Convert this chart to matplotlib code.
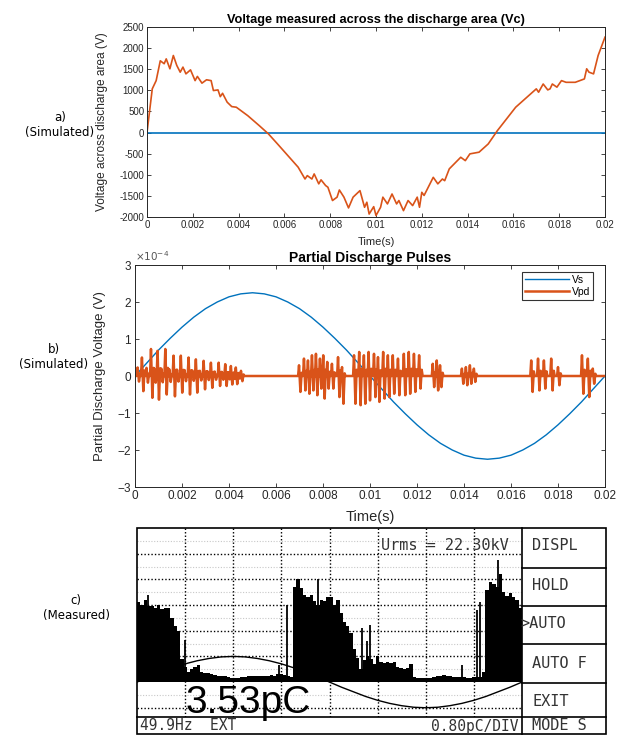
import matplotlib
matplotlib.use('Agg')
import matplotlib.pyplot as plt
from matplotlib.ticker import FuncFormatter, ScalarFormatter, MultipleLocator
from matplotlib.patches import Rectangle
import numpy as np

plt.rcParams['axes.unicode_minus'] = False

# ---------------- data ----------------
# a) Voltage across the discharge area
vc_t = [0, 0.00023, 0.0004, 0.00058, 0.00075, 0.00084, 0.001, 0.00115, 0.0013, 0.00145,
        0.00157, 0.0017, 0.0019, 0.0021, 0.0022, 0.0024, 0.0026, 0.0028, 0.0029, 0.0031,
        0.0032, 0.0033, 0.0035, 0.0037, 0.0039, 0.0041, 0.0044, 0.0049, 0.0053, 0.0057,
        0.0066, 0.0069, 0.0070, 0.0072, 0.0073, 0.0075, 0.0076, 0.0078, 0.0079, 0.0081,
        0.0083, 0.0084, 0.0086, 0.0088, 0.0090, 0.0093, 0.0095, 0.0096, 0.0097, 0.0099,
        0.0100, 0.0102, 0.0103, 0.0105, 0.0107, 0.0109, 0.0110, 0.0112, 0.0114, 0.0116,
        0.0118, 0.0119, 0.0120, 0.0121, 0.0125, 0.0127, 0.0129, 0.0130, 0.0132, 0.0137,
        0.0139, 0.0141, 0.0145, 0.0149, 0.0153, 0.0161, 0.0170, 0.0171, 0.0173, 0.0175,
        0.0176, 0.0177, 0.0179, 0.0181, 0.0183, 0.0187, 0.0191, 0.0192, 0.0193, 0.0195,
        0.0197, 0.0200]
vc_v = [0, 1035, 1230, 1700, 1630, 1745, 1510, 1825, 1590, 1430,
        1550, 1390, 1485, 1230, 1330, 1170, 1250, 1230, 995, 1010,
        850, 930, 720, 615, 600, 520, 400, 165, -30, -270,
        -820, -1100, -1020, -1100, -980, -1215, -1120, -1255, -1295, -1610,
        -1530, -1360, -1530, -1785, -1530, -1375, -1770, -1650, -1930, -1755,
        -1965, -1770, -1530, -1690, -1455, -1690, -1610, -1850, -1610, -1730,
        -1530, -1770, -1415, -1490, -1060, -1215, -1100, -1140, -860, -585,
        -665, -505, -465, -270, 45, 600, 1035, 955, 1150, 1010,
        1035, 1150, 1075, 1230, 1190, 1190, 1270, 1510, 1430, 1390,
        1825, 2260]
zero_t = [0, 0.02]
zero_v = [0, 0]

# b) Partial discharge pulses (values in units of 1e-4 V)
vs_t = [i * 0.0005 for i in range(41)]
vs_v = [0, 0.35, 0.70, 1.02, 1.32, 1.59, 1.82, 2.00, 2.14, 2.22, 2.25, 2.22, 2.14, 2.00,
        1.82, 1.59, 1.32, 1.02, 0.70, 0.35, 0, -0.35, -0.70, -1.02, -1.32, -1.59, -1.82,
        -2.00, -2.14, -2.22, -2.25, -2.22, -2.14, -2.00, -1.82, -1.59, -1.32, -1.02,
        -0.70, -0.35, 0]
pd_t = [0.00007, 0.000255, 0.00045, 0.00064, 0.00078, 0.00092, 0.00108, 0.00125, 0.00142,
        0.0016, 0.00175, 0.00191, 0.00207, 0.00224, 0.0024, 0.00255, 0.00272, 0.00288,
        0.00304, 0.00319, 0.00335, 0.00352, 0.00366, 0.0038, 0.00393, 0.00404, 0.00415,
        0.00425, 0.00436, 0.00447,
        0.00694, 0.00715, 0.00732, 0.00749, 0.00766, 0.00783, 0.00797, 0.00814, 0.00834,
        0.0086, 0.00877,
        0.00928, 0.0095, 0.0097, 0.0099, 0.01013, 0.0103, 0.01052, 0.01072, 0.01093,
        0.01115, 0.0114, 0.01161, 0.01183, 0.01205,
        0.01263, 0.0128, 0.01294,
        0.01387, 0.01404, 0.01421, 0.01438,
        0.01682, 0.01711, 0.01736, 0.01767, 0.01796,
        0.01898, 0.01923, 0.01944]
pd_up = [0.23, 0.50, 0.22, 0.73, 0.20, 0.68, 0.20, 0.73, 0.18, 0.55, 0.17, 0.55, 0.16,
         0.50, 0.15, 0.45, 0.14, 0.41, 0.13, 0.36, 0.12, 0.36, 0.11, 0.32, 0.10, 0.27,
         0.09, 0.23, 0.08, 0.14,
         0.29, 0.47, 0.42, 0.56, 0.60, 0.47, 0.56, 0.38, 0.33, 0.51, 0.24,
         0.56, 0.65, 0.56, 0.65, 0.60, 0.51, 0.65, 0.56, 0.56, 0.47, 0.60, 0.65, 0.60, 0.56,
         0.33, 0.42, 0.29,
         0.20, 0.24, 0.29, 0.20,
         0.42, 0.47, 0.42, 0.47, 0.24,
         0.56, 0.47, 0.20]
pd_dn = [-0.15, -0.41, -0.18, -0.59, -0.18, -0.64, -0.17, -0.50, -0.16, -0.55, -0.15, -0.45,
         -0.14, -0.50, -0.13, -0.45, -0.12, -0.36, -0.11, -0.32, -0.10, -0.27, -0.10, -0.27,
         -0.09, -0.23, -0.08, -0.22, -0.07, -0.14,
         -0.43, -0.39, -0.48, -0.39, -0.52, -0.34, -0.61, -0.34, -0.34, -0.57, -0.75,
         -0.75, -0.79, -0.75, -0.66, -0.57, -0.70, -0.61, -0.57, -0.48, -0.52, -0.52, -0.48,
         -0.43, -0.34,
         -0.30, -0.39, -0.30,
         -0.21, -0.25, -0.21, -0.16,
         -0.43, -0.39, -0.34, -0.39, -0.25,
         -0.48, -0.57, -0.21]

# c) Measured PD display (heights in screen divisions, 8 x-divisions)
c_bars = [3.1, 3.0, 3.2, 2.95, 2.95, 2.88, 3.0, 2.85, 2.88, 2.9, 2.5, 2.2, 2.0,
          0.9, 0.6, 0.4, 0.5, 0.6, 0.65, 0.4, 0.35, 0.35, 0.3, 0.28, 0.25, 0.22, 0.22,
          0.18, 0.15, 0.15, 0.17, 0.2, 0.2, 0.22, 0.22, 0.22, 0.22, 0.22, 0.22, 0.25,
          0.28, 0.25, 0.3, 0.3, 0.28, 0.25, 0.2,
          3.7, 4.0, 3.65, 3.4, 3.3, 3.4, 3.15, 3.0, 3.2, 3.15, 3.3, 3.3,
          3.0, 3.2, 2.7, 2.35, 2.2, 1.9, 1.3, 0.95, 0.5, 0.85, 1.0, 0.9, 0.7, 1.0, 0.8,
          0.75, 0.8, 0.75, 0.8, 0.6, 0.55, 0.5, 0.55, 0.7,
          0.2, 0.15, 0.15, 0.14, 0.15, 0.15, 0.18, 0.22, 0.25, 0.27, 0.25, 0.25, 0.2,
          0.2, 0.2, 0.18, 0.15, 0.15, 0.18, 0.2, 0.2, 0.4,
          3.6, 3.9, 3.8, 3.7, 4.2, 3.5, 3.35, 3.45, 3.3, 3.2, 2.9]
c_spike_x = [0.235, 0.82, 1.0, 2.95, 3.11, 3.77, 4.17, 4.67, 4.78, 4.84, 6.75, 7.06, 7.13, 7.51]
c_spike_h = [3.4, 2.0, 1.65, 0.67, 3.0, 4.0, 3.2, 2.1, 1.6, 2.23, 0.67, 2.8, 3.1, 4.75]
c_env_x = [i * 0.25 for i in range(33)]
c_env_v = [0, 0.2, 0.38, 0.56, 0.71, 0.83, 0.92, 0.98, 1.0, 0.98, 0.92, 0.83, 0.71, 0.56,
           0.38, 0.2, 0, -0.2, -0.38, -0.56, -0.71, -0.83, -0.92, -0.98, -1.0, -0.98,
           -0.92, -0.83, -0.71, -0.56, -0.38, -0.2, 0]

# ---------------- figure ----------------
W, H = 623, 736
fig = plt.figure(figsize=(W / 100, H / 100), dpi=100)


def fbox(l, t, r, b):
    return [l / W, 1 - b / H, (r - l) / W, (b - t) / H]


BLUE = '#0072BD'
RED = '#D95319'
TXT = '#262626'
LCD = '#333333'
SANS = ['Liberation Sans', 'DejaVu Sans']
MONO = ['DejaVu Sans Mono', 'DejaVu Sans']
gfmt = FuncFormatter(lambda v, p: f'{v:g}')


def matlab_axes(ax, fs):
    ax.tick_params(direction='in', top=True, right=True, length=3, width=0.6,
                   labelsize=fs, colors=TXT, pad=2)
    for s in ax.spines.values():
        s.set_linewidth(0.7)
        s.set_color(TXT)
    for lab in ax.get_xticklabels() + ax.get_yticklabels():
        lab.set_family(SANS)


# ----- panel a -----
ax1 = fig.add_axes(fbox(147, 27, 605, 217))
ax1.plot(zero_t, zero_v, color=BLUE, lw=1.2)
ax1.plot(vc_t, vc_v, color=RED, lw=1.2)
ax1.set_xlim(0, 0.02)
ax1.set_ylim(-2000, 2500)
ax1.xaxis.set_major_locator(MultipleLocator(0.002))
ax1.yaxis.set_major_locator(MultipleLocator(500))
ax1.xaxis.set_major_formatter(gfmt)
ax1.yaxis.set_major_formatter(gfmt)
matlab_axes(ax1, 7)
ax1.set_title('Voltage measured across the discharge area (Vc)', fontsize=9.2,
              fontweight='bold', family=SANS, pad=3, color='black')
ax1.set_xlabel('Time(s)', fontsize=8, family=SANS, color=TXT)
ax1.set_ylabel('Voltage across discharge area (V)', fontsize=8.6, family=SANS, color=TXT)
ax1.xaxis.set_label_coords(0.5, -0.105)
ax1.yaxis.set_label_coords(-0.086, 0.5)

# ----- panel b -----
ax2 = fig.add_axes(fbox(135, 265, 605, 487))
ax2.plot(vs_t, np.array(vs_v) * 1e-4, color=BLUE, lw=1.0, label='Vs')
px = [0.0]
py = [0.0]
for t, u, d in zip(pd_t, pd_up, pd_dn):
    px += [t, t + 0.00004, t + 0.0001, t + 0.00015, t + 0.00019]
    py += [0, u, d, 0.3 * u, 0]
px.append(0.02)
py.append(0.0)
ax2.plot(px, np.array(py) * 1e-4, color=RED, lw=1.8, label='Vpd')
ax2.set_xlim(0, 0.02)
ax2.set_ylim(-3e-4, 3e-4)
ax2.xaxis.set_major_locator(MultipleLocator(0.002))
ax2.yaxis.set_major_locator(MultipleLocator(1e-4))
ax2.xaxis.set_major_formatter(gfmt)
sf = ScalarFormatter(useMathText=True)
sf.set_powerlimits((0, 0))
ax2.yaxis.set_major_formatter(sf)
matlab_axes(ax2, 8.5)
ax2.yaxis.get_offset_text().set_fontsize(7.5)
ax2.yaxis.get_offset_text().set_color('#555555')
ax2.set_title('Partial Discharge Pulses', fontsize=10, fontweight='bold', family=SANS,
              pad=2, color='black')
ax2.set_xlabel('Time(s)', fontsize=10.5, family=SANS, color=TXT)
ax2.set_ylabel('Partial Discharge Voltage (V)', fontsize=9.5, family=SANS, color=TXT)
ax2.xaxis.set_label_coords(0.5, -0.105)
ax2.yaxis.set_label_coords(-0.062, 0.5)
leg = ax2.legend(loc='upper right', bbox_to_anchor=(0.975, 0.97), borderaxespad=0,
                 handlelength=4.2, frameon=True, fancybox=False,
                 borderpad=0.3, labelspacing=0.2, handletextpad=0.3,
                 prop={'family': SANS, 'size': 7.5})
leg.get_frame().set_edgecolor('black')
leg.get_frame().set_linewidth(0.8)

# ----- panel c -----
axc = fig.add_axes(fbox(137, 528, 522, 717))
axc.set_xlim(0, 8)
axc.set_ylim(-1.36, 6.0)
axc.axis('off')
bw = 8 / len(c_bars)
bx = [i * bw for i in range(len(c_bars))]
axc.bar(bx, c_bars, width=bw * 1.02, align='edge', color='black', lw=0, zorder=3)
axc.vlines(c_spike_x, 0, c_spike_h, color='black', lw=1.3, zorder=3)
axc.plot(c_env_x, c_env_v, color='black', lw=1.0, zorder=3)
for y in [-0.5, 0.5, 1.5, 2.5, 3.5, 4.5, 5.5]:
    axc.axhline(y, color='#c8c8c8', lw=0.8, ls=(0, (1, 1.5)), zorder=1)
for y in [-1, 1, 2, 3, 4, 5]:
    axc.axhline(y, color='black', lw=1.0, ls=(0, (1, 1.5)), zorder=2)
for x in range(1, 8):
    axc.axvline(x, color='black', lw=1.0, ls=(0, (1, 1.5)), zorder=2)
axc.text(1.0, -1.2, '3.53pC', fontsize=28, family=SANS, ha='left', va='baseline',
         color='black', zorder=4)

# frame / display decorations in pixel coordinates
axf = fig.add_axes([0, 0, 1, 1])
axf.set_xlim(0, W)
axf.set_ylim(H, 0)
axf.axis('off')
axf.patch.set_alpha(0)
axf.add_patch(Rectangle((137, 528), 469, 206, fill=False, lw=1.2, edgecolor='black'))
axf.plot([522, 522], [528, 734], color='black', lw=1.2)
axf.plot([137, 606], [717, 717], color='black', lw=1.2)
for y in [568, 606, 644, 683]:
    axf.plot([522, 606], [y, y], color='black', lw=1.2)
axf.text(509, 545, 'Urms = 22.30kV', fontsize=11, family=MONO, ha='right', va='center', color=LCD)
axf.text(140, 726, '49.9Hz  EXT', fontsize=10.5, family=MONO, ha='left', va='center', color=LCD)
axf.text(518, 726, '0.80pC/DIV', fontsize=10.5, family=MONO, ha='right', va='center', color=LCD)
for s, y in [('DISPL', 546), ('HOLD', 585), ('AUTO F', 663), ('EXIT', 701), ('MODE S', 726)]:
    axf.text(532, y, s, fontsize=11, family=MONO, ha='left', va='center', color=LCD)
axf.text(520, 624, '>AUTO', fontsize=11, family=MONO, ha='left', va='center', color=LCD)

# side labels
fig.text(60 / W, 1 - 125 / H, 'a)\n(Simulated)', fontsize=8.5, family='DejaVu Sans',
         ha='center', va='center', linespacing=1.15)
fig.text(54 / W, 1 - 357 / H, 'b)\n(Simulated)', fontsize=8.5, family='DejaVu Sans',
         ha='center', va='center', linespacing=1.15)
fig.text(76 / W, 1 - 608 / H, 'c)\n(Measured)', fontsize=8.5, family='DejaVu Sans',
         ha='center', va='center', linespacing=1.15)

fig.savefig('out.png', dpi=100)
